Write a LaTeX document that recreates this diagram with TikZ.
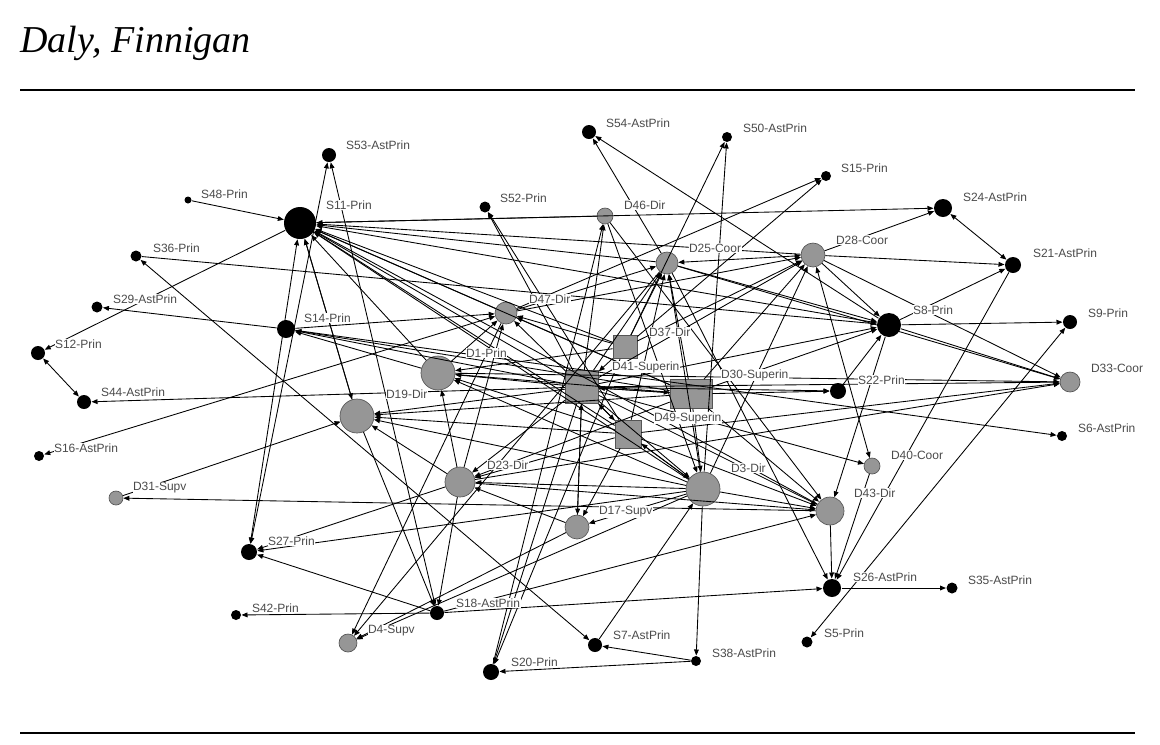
\documentclass[tikz,border=0pt]{standalone}
\usepackage{fontspec}
\setmainfont{Liberation Sans}
\newfontfamily\headfont{Liberation Serif}
\usetikzlibrary{arrows.meta}

\definecolor{nodegrey}{RGB}{150,150,150}
\definecolor{rimgrey}{RGB}{85,85,85}
\definecolor{txtgrey}{RGB}{75,75,75}

\tikzset{every picture/.style={line width=0.75pt}}
\tikzset{
  sdot/.style={circle, fill=black, inner sep=0pt, minimum size=#1},
  ddot/.style={circle, fill=nodegrey, draw=rimgrey, line width=0.5pt, inner sep=0pt, minimum size=#1},
  dbox/.style={rectangle, fill=nodegrey, draw=rimgrey, line width=0.5pt, inner sep=0pt},
  lbl/.style={anchor=west, fill=white, inner sep=0.4pt, text=txtgrey, font=\fontsize{9pt}{10pt}\selectfont},
  arc/.style={draw, line width=0.65pt, -{Triangle[length=4.5pt,width=3.6pt]}},
  arcs/.style={draw, line width=0.65pt, {Triangle[length=4.5pt,width=3.6pt]}-{Triangle[length=4.5pt,width=3.6pt]}}
}

\begin{document}
\begin{tikzpicture}[x=0.75pt,y=0.75pt,yscale=-1,xscale=1]
		\useasboundingbox (0,0) rectangle (1160,744);
		
		% header and rules
		\node [anchor=base west, inner sep=0pt] (hdr) at (20,52) {\headfont\itshape\fontsize{28.5pt}{30pt}\selectfont Daly, Finnigan};
		\draw [line width=1.1pt] (20,90) -- (1135,90);
		\draw [line width=1.1pt] (20,733) -- (1135,733);
		
		% school people
		\node [sdot=10.5pt] (S53) at (329,155) {};
		\node [sdot=5.25pt] (S48) at (188,200) {};
		\node [sdot=24pt] (S11) at (300,223) {};
		\node [sdot=8.25pt] (S36) at (136,256) {};
		\node [sdot=8.25pt] (S29) at (97,307) {};
		\node [sdot=10.5pt] (S12) at (38,353) {};
		\node [sdot=13.5pt] (S14) at (286,329) {};
		\node [sdot=10.5pt] (S44) at (84,402) {};
		\node [sdot=7.5pt] (S16) at (39,456) {};
		\node [sdot=8.25pt] (S52) at (485,207) {};
		\node [sdot=10.5pt] (S54) at (589,132) {};
		\node [sdot=7.5pt] (S50) at (727,137) {};
		\node [sdot=7.5pt] (S15) at (826,176) {};
		\node [sdot=13.5pt] (S24) at (943,208) {};
		\node [sdot=12pt] (S21) at (1013,265) {};
		\node [sdot=18pt] (S8) at (889,325) {};
		\node [sdot=10.5pt] (S9) at (1070,322) {};
		\node [sdot=12pt] (S22) at (838,391) {};
		\node [sdot=7.5pt] (S6) at (1062,436) {};
		\node [sdot=12pt] (S27) at (249,552) {};
		\node [sdot=7.5pt] (S42) at (236,615) {};
		\node [sdot=10.5pt] (S18) at (437,613) {};
		\node [sdot=12pt] (S20) at (491,672) {};
		\node [sdot=13.5pt] (S26) at (832,588) {};
		\node [sdot=8.25pt] (S35) at (952,588) {};
		\node [sdot=10.5pt] (S7) at (595,645) {};
		\node [sdot=8.25pt] (S5) at (807,642) {};
		\node [sdot=7.5pt] (S38) at (696,661) {};
		
		% district people
		\node [ddot=10.5pt] (D31) at (116,498) {};
		\node [ddot=12pt] (D46) at (605,216) {};
		\node [ddot=16.5pt] (D25) at (667,263) {};
		\node [ddot=16.5pt] (D47) at (506,313) {};
		\node [ddot=18pt] (D28) at (813,255) {};
		\node [ddot=25.5pt] (D1) at (438,373) {};
		\node [ddot=25.5pt] (D19) at (357,416) {};
		\node [ddot=22.5pt] (D23) at (460,482) {};
		\node [ddot=25.5pt] (D3) at (703,489) {};
		\node [ddot=18pt] (D17) at (577,527) {};
		\node [ddot=15pt] (D33) at (1070,382) {};
		\node [ddot=12pt] (D40) at (872,466) {};
		\node [ddot=21pt] (D43) at (830,511) {};
		\node [ddot=13.5pt] (D4) at (348,643) {};
		\node [dbox, minimum width=18pt, minimum height=17.5pt] (D37) at (625,347) {};
		\node [dbox, minimum width=24.75pt, minimum height=24.75pt] (D41) at (582,387) {};
		\node [dbox, minimum width=31.5pt, minimum height=21.75pt] (D30) at (691,394) {};
		\node [dbox, minimum width=19.5pt, minimum height=21pt] (D49) at (628,434) {};
		
		% ties out to the edge
		\draw [arc] (S48) -- (S11);
		\draw [arcs] (S27) -- (S53);
		\draw [arcs] (S18) -- (S53);
		\draw [arc] (S11) -- (S12);
		\draw [arcs] (S12) -- (S44);
		\draw [arcs] (D47) -- (S16);
		\draw [arc] (D41) -- (S44);
		\draw [arc] (D43) -- (D31);
		\draw [arc] (D31) -- (D19);
		\draw [arc] (S36) -- (S8);
		\draw [arcs] (S36) -- (S7);
		\draw [arc] (S14) -- (S29);
		\draw [arc] (D41) -- (S52);
		\draw [arc] (D49) -- (S52);
		\draw [arc] (D25) -- (S54);
		\draw [arc] (S8) -- (S54);
		\draw [arc] (D37) -- (S50);
		\draw [arc] (D3) -- (S50);
		\draw [arc] (D47) -- (S15);
		\draw [arc] (D37) -- (S15);
		\draw [arc] (S11) -- (S24);
		\draw [arc] (D28) -- (S24);
		\draw [arcs] (S24) -- (S21);
		\draw [arc] (D28) -- (S21);
		\draw [arc] (S8) -- (S21);
		\draw [arc] (S21) -- (S26);
		\draw [arc] (S8) -- (S9);
		\draw [arcs] (S5) -- (S9);
		\draw [arc] (S14) -- (S6);
		\draw [arc] (D30) -- (S22);
		\draw [arc] (D41) -- (S22);
		\draw [arc] (S22) -- (S8);
		\draw [arcs] (D28) -- (D40);
		\draw [arc] (D40) -- (S26);
		\draw [arc] (D43) -- (S26);
		\draw [arc] (D25) -- (S26);
		\draw [arc] (S18) -- (S26);
		\draw [arc] (S26) -- (S35);
		\draw [arc] (S18) -- (S42);
		\draw [arc] (S18) -- (S27);
		\draw [arc] (D23) -- (S27);
		\draw [arc] (D3) -- (S27);
		\draw [arcs] (S11) -- (S27);
		\draw [arcs] (S11) -- (D19);
		\draw [arc] (S38) -- (S7);
		\draw [arc] (S38) -- (S20);
		\draw [arc] (D3) -- (S38);
		\draw [arc] (S7) -- (D3);
		\draw [arc] (S20) -- (D46);
		\draw [arc] (D41) -- (S20);
		\draw [arc] (D37) -- (S20);
		\draw [arc] (D47) -- (D4);
		\draw [arc] (D25) -- (D4);
		\draw [arc] (D3) -- (D4);
		\draw [arc] (D17) -- (D4);
		\draw [arc] (S18) -- (D43);
		\draw [arc] (D23) -- (S18);
		\draw [arc] (D19) -- (S18);
		
		% ties among the central office
		\draw [arc] (D41) -- (S11);
		\draw [arc] (D41) -- (S14);
		\draw [arc] (D41) -- (D1);
		\draw [arc] (D41) -- (D19);
		\draw [arc] (D41) -- (D47);
		\draw [arc] (D41) -- (D46);
		\draw [arc] (D41) -- (D25);
		\draw [arc] (D41) -- (D28);
		\draw [arc] (D41) -- (S8);
		\draw [arc] (D41) -- (D30);
		\draw [arc] (D41) -- (D49);
		\draw [arc] (D41) -- (D23);
		\draw [arc] (D41) -- (D3);
		\draw [arc] (D41) -- (D17);
		\draw [arc] (D41) -- (D43);
		\draw [arc] (D41) -- (D40);
		\draw [arc] (D41) -- (D33);
		\draw [arc] (D30) -- (S11);
		\draw [arc] (D30) -- (S14);
		\draw [arc] (D30) -- (D1);
		\draw [arc] (D30) -- (D19);
		\draw [arc] (D30) -- (D41);
		\draw [arc] (D30) -- (D47);
		\draw [arc] (D30) -- (D25);
		\draw [arc] (D30) -- (D28);
		\draw [arc] (D30) -- (D23);
		\draw [arc] (D30) -- (D3);
		\draw [arc] (D30) -- (S8);
		\draw [arc] (D30) -- (D43);
		\draw [arc] (D49) -- (D1);
		\draw [arc] (D49) -- (D19);
		\draw [arc] (D49) -- (D23);
		\draw [arc] (D49) -- (D3);
		\draw [arc] (D49) -- (D17);
		\draw [arc] (D49) -- (D43);
		\draw [arc] (D49) -- (D25);
		\draw [arc] (D49) -- (S11);
		\draw [arc] (D49) -- (D41);
		\draw [arc] (D49) -- (D33);
		\draw [arc] (D37) -- (D25);
		\draw [arc] (D37) -- (D1);
		\draw [arc] (D37) -- (D41);
		\draw [arc] (D37) -- (D28);
		\draw [arc] (D37) -- (D47);
		\draw [arc] (D37) -- (S11);
		\draw [arc] (D3) -- (D23);
		\draw [arc] (D3) -- (D43);
		\draw [arc] (D3) -- (D49);
		\draw [arc] (D3) -- (D1);
		\draw [arc] (D3) -- (D19);
		\draw [arc] (D3) -- (D25);
		\draw [arc] (D3) -- (D28);
		\draw [arc] (D3) -- (S11);
		\draw [arc] (D3) -- (D17);
		\draw [arc] (D23) -- (D19);
		\draw [arc] (D23) -- (D1);
		\draw [arc] (D23) -- (D47);
		\draw [arc] (D23) -- (D43);
		\draw [arc] (D23) -- (D33);
		\draw [arc] (D1) -- (S11);
		\draw [arc] (D1) -- (S14);
		\draw [arc] (D1) -- (D47);
		\draw [arc] (D1) -- (D33);
		\draw [arc] (D19) -- (S11);
		\draw [arc] (D47) -- (S11);
		\draw [arc] (S14) -- (D47);
		\draw [arc] (D47) -- (D25);
		\draw [arc] (D47) -- (D28);
		\draw [arc] (D25) -- (S11);
		\draw [arcs] (D25) -- (D28);
		\draw [arc] (D25) -- (S8);
		\draw [arc] (D25) -- (D33);
		\draw [arc] (D28) -- (S11);
		\draw [arc] (D28) -- (S8);
		\draw [arc] (D28) -- (D33);
		\draw [arc] (S8) -- (S11);
		\draw [arc] (S8) -- (D33);
		\draw [arc] (S8) -- (D43);
		\draw [arc] (D46) -- (S11);
		\draw [arc] (D46) -- (D3);
		\draw [arc] (D46) -- (D43);
		\draw [arc] (D43) -- (S11);
		\draw [arc] (D17) -- (D23);
		\draw [arc] (D17) -- (D41);
		
		% names
		\node [lbl] (l-S53) at (345,145) {S53-AstPrin};
		\node [lbl] (l-S48) at (200,194) {S48-Prin};
		\node [lbl] (l-S11) at (325,205) {S11-Prin};
		\node [lbl] (l-S36) at (152,248) {S36-Prin};
		\node [lbl] (l-S29) at (112,299) {S29-AstPrin};
		\node [lbl] (l-S14) at (303,318) {S14-Prin};
		\node [lbl] (l-S12) at (54,344) {S12-Prin};
		\node [lbl] (l-S44) at (100,392) {S44-AstPrin};
		\node [lbl] (l-S16) at (53,448) {S16-AstPrin};
		\node [lbl] (l-D31) at (132,488) {D31-Supv};
		\node [lbl] (l-S52) at (499,198) {S52-Prin};
		\node [lbl] (l-S54) at (605,123) {S54-AstPrin};
		\node [lbl] (l-S50) at (742,128) {S50-AstPrin};
		\node [lbl] (l-D46) at (623,205) {D46-Dir};
		\node [lbl] (l-D25) at (688,248) {D25-Coor};
		\node [lbl] (l-D47) at (528,299) {D47-Dir};
		\node [lbl] (l-D37) at (648,332) {D37-Dir};
		\node [lbl] (l-S15) at (840,168) {S15-Prin};
		\node [lbl] (l-S24) at (962,197) {S24-AstPrin};
		\node [lbl] (l-D28) at (835,240) {D28-Coor};
		\node [lbl] (l-S21) at (1032,253) {S21-AstPrin};
		\node [lbl] (l-S8) at (912,310) {S8-Prin};
		\node [lbl] (l-S9) at (1087,313) {S9-Prin};
		\node [lbl] (l-D1) at (465,353) {D1-Prin};
		\node [lbl] (l-D19) at (385,394) {D19-Dir};
		\node [lbl] (l-D41) at (611,367) {D41-Superin};
		\node [lbl] (l-D30) at (720,375) {D30-Superin};
		\node [lbl] (l-D49) at (653,418) {D49-Superin};
		\node [lbl] (l-S22) at (857,380) {S22-Prin};
		\node [lbl] (l-D33) at (1090,368) {D33-Coor};
		\node [lbl] (l-S6) at (1077,428) {S6-AstPrin};
		\node [lbl] (l-D40) at (890,455) {D40-Coor};
		\node [lbl] (l-D23) at (486,465) {D23-Dir};
		\node [lbl] (l-D3) at (730,468) {D3-Dir};
		\node [lbl] (l-D43) at (853,493) {D43-Dir};
		\node [lbl] (l-D17) at (598,512) {D17-Supv};
		\node [lbl] (l-S27) at (267,541) {S27-Prin};
		\node [lbl] (l-S26) at (852,577) {S26-AstPrin};
		\node [lbl] (l-S35) at (967,580) {S35-AstPrin};
		\node [lbl] (l-S42) at (251,608) {S42-Prin};
		\node [lbl] (l-S18) at (455,603) {S18-AstPrin};
		\node [lbl] (l-D4) at (367,631) {D4-Supv};
		\node [lbl] (l-S7) at (612,635) {S7-AstPrin};
		\node [lbl] (l-S5) at (823,633) {S5-Prin};
		\node [lbl] (l-S38) at (711,653) {S38-AstPrin};
		\node [lbl] (l-S20) at (510,662) {S20-Prin};
		
	\end{tikzpicture}
\end{document}
